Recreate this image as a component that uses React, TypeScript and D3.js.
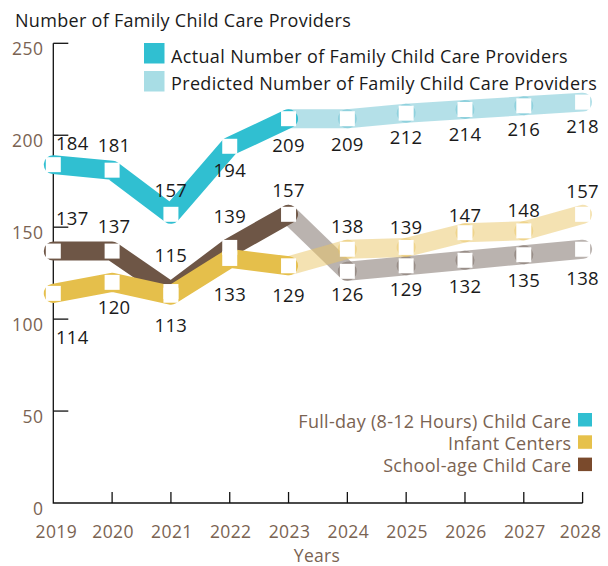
import React from "react";
import * as d3 from "d3";

const years = [2019, 2020, 2021, 2022, 2023, 2024, 2025, 2026, 2027, 2028];
const actualYears = [2019, 2020, 2021, 2022, 2023];
const predictedYears = [2023, 2024, 2025, 2026, 2027, 2028];

const fullDayActual = [184, 181, 157, 194, 209];
const fullDayPredicted = [209, 209, 212, 214, 216, 218];
const infantActual = [114, 120, 113, 133, 129];
const infantPredicted = [129, 138, 139, 147, 148, 157];
const schoolAgeActual = [137, 137, 115, 139, 157];
const schoolAgePredicted = [157, 126, 129, 132, 135, 138];

const yTicks = [0, 50, 100, 150, 200, 250];
const seriesNames = ["Full-day (8-12 Hours) Child Care", "Infant Centers", "School-age Child Care"];
const topLegend = ["Actual Number of Family Child Care Providers", "Predicted Number of Family Child Care Providers"];

// label offsets (pixels) for actual (2019-2023) and predicted (2024-2028)
const fullDayLabelDy = [-15, -18, -17, 31, 33, 32, 31, 32, 30, 31];
const infantLabelDy = [51, 32, 37, 43, 36, -16, -13, -11, -14, -16];
const schoolLabelDy = [-26, -18, -30, -24, -17, 30, 30, 33, 32, 36];

const FONT = "'Open Sans', 'Noto Sans', sans-serif";
const W = 608, H = 566;

const series = [
  { name: seriesNames[0], actual: fullDayActual, predicted: fullDayPredicted, dy: fullDayLabelDy, color: "#30bfd1", pred: "#69c1d1" },
  { name: seriesNames[2], actual: schoolAgeActual, predicted: schoolAgePredicted, dy: schoolLabelDy, color: "#6e5646", pred: "#75675f" },
  { name: seriesNames[1], actual: infantActual, predicted: infantPredicted, dy: infantLabelDy, color: "#e5bf4b", pred: "#e9c565" },
];

export default function App() {
  const x = d3.scaleLinear().domain([2019, 2028]).range([53.3, 582.6]);
  const y = d3.scaleLinear().domain([0, 250]).range([503, 43.3]);
  const line = d3.line<[number, number]>().x((d) => x(d[0])).y((d) => y(d[1]));
  const SW = 19;
  const M = 15;

  const legendBottom = [
    { name: seriesNames[0], color: "#30bfd1" },
    { name: seriesNames[1], color: "#e6c14b" },
    { name: seriesNames[2], color: "#7a4a2c" },
  ];

  return (
    <svg width={W} height={H} style={{ position: "absolute", left: 0, top: 0 }} fontFamily={FONT}>
      <rect width={W} height={H} fill="#fff" />
      {/* title */}
      <text x={15} y={26.5} fontSize={18} letterSpacing={0.3} fill="#1a1a1a">Number of Family Child Care Providers</text>

      {/* axes */}
      <path d={`M${x(2019)},${y(250)}V${y(0)}H${x(2028)}`} fill="none" stroke="#111" strokeWidth={1.3} />
      {yTicks.filter((t) => t > 0).map((t) => (
        <line key={t} x1={x(2019)} x2={x(2019) + 15} y1={y(t)} y2={y(t)} stroke="#111" strokeWidth={1.3} />
      ))}
      {yTicks.map((t) => (
        <text key={t} x={43.5} y={y(t) + 11.5} textAnchor="end" fontSize={17.5} letterSpacing={0.5} fill="#7a6352">{t}</text>
      ))}
      {years.slice(1).map((yr) => (
        <line key={yr} x1={x(yr)} x2={x(yr)} y1={y(0)} y2={y(0) - 11} stroke="#111" strokeWidth={1.3} />
      ))}
      {years.map((yr, i) => (
        <text key={yr} x={x(yr) + (i === 0 ? 3 : i === 9 ? -2 : 1)} y={538} textAnchor="middle" fontSize={17.5} letterSpacing={0.4} fill="#7a6352">{yr}</text>
      ))}
      <text x={317} y={562} textAnchor="middle" fontSize={17.5} letterSpacing={0.3} fill="#7a6352">Years</text>

      {/* predicted segments */}
      {series.map((s) =>
        s.predicted.slice(1).map((v, i) => (
          <path key={s.name + i}
            d={line([[predictedYears[i], s.predicted[i]], [predictedYears[i + 1], v]]) || ""}
            fill="none" stroke={s.pred} strokeOpacity={0.5} strokeWidth={SW} strokeLinecap="round" />
        ))
      )}
      {/* actual lines */}
      {series.map((s) => (
        <path key={s.name}
          d={line(actualYears.map((yr, i) => [yr, s.actual[i]] as [number, number])) || ""}
          fill="none" stroke={s.color} strokeWidth={SW} strokeLinecap="round" strokeLinejoin="round" />
      ))}
      {/* markers */}
      {series.map((s) =>
        years.map((yr, i) => {
          const v = i < 5 ? s.actual[i] : s.predicted[i - 4];
          return <rect key={s.name + yr} x={x(yr) - M / 2} y={y(v) - M / 2} width={M} height={M} fill="#fff" />;
        })
      )}
      {/* value labels */}
      {series.map((s) =>
        years.map((yr, i) => {
          const v = i < 5 ? s.actual[i] : s.predicted[i - 4];
          const dx = i === 0 ? 19 : i === 1 ? 2 : 0;
          return (
            <text key={"l" + s.name + yr} x={x(yr) + dx} y={y(v) + s.dy[i]} textAnchor="middle" fontSize={18.5} letterSpacing={0.3} fill="#1a1a1a">{v}</text>
          );
        })
      )}

      {/* top legend */}
      <rect x={144} y={43} width={20.5} height={20.5} fill="#30bfd1" />
      <text x={171} y={63.3} fontSize={18} letterSpacing={0.35} fill="#1a1a1a">{topLegend[0]}</text>
      <rect x={144} y={71} width={20.5} height={20.5} fill="#a8dde5" />
      <text x={171} y={90} fontSize={18} letterSpacing={0.35} fill="#1a1a1a">{topLegend[1]}</text>

      {/* bottom legend */}
      {legendBottom.map((l, i) => (
        <g key={l.name}>
          <rect x={578} y={413 + i * 22.3} width={14} height={13.5} fill={l.color} />
          <text x={571.5} y={427.5 + i * 22.3} textAnchor="end" fontSize={18} letterSpacing={0.3} fill="#7a6352">{l.name}</text>
        </g>
      ))}
    </svg>
  );
}
